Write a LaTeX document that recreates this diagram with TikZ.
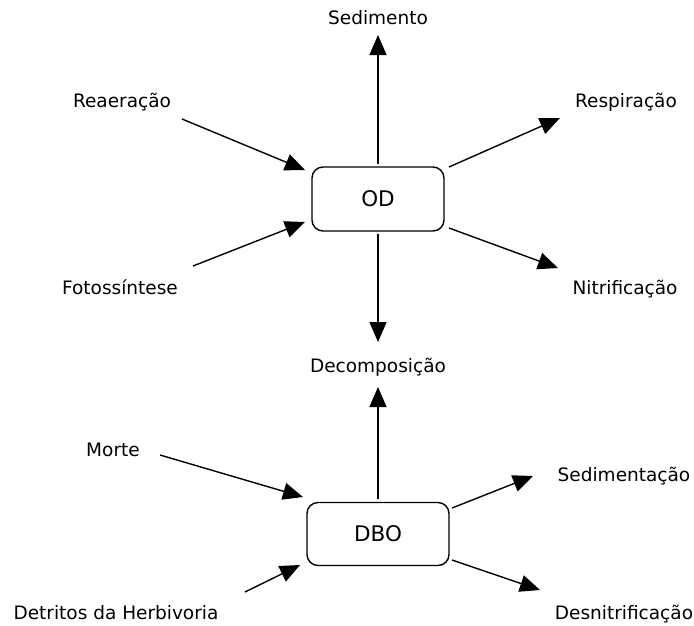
\documentclass[tikz,border=0pt]{standalone}
\usepackage{fontspec}
\setmainfont{DejaVu Sans}
\usetikzlibrary{arrows.meta}
\begin{document}
\begin{tikzpicture}[x=1pt,y=-1pt,
  flux/.style={line width=1.4pt,-{Triangle[length=20pt,width=17pt]}},
  pool/.style={draw,line width=1.4pt,rounded corners=11pt,minimum width=132pt,minimum height=64pt,font=\fontsize{21.5}{24}\selectfont},
  lbl/.style={font=\fontsize{18.5}{21}\selectfont,inner sep=0pt,anchor=base}]
\useasboundingbox (0,0) rectangle (694,625);
% state variables
\node[pool] (od) at (378,199) {OD};
\node[pool,minimum width=142pt,minimum height=63pt] (dbo) at (378,534) {DBO};
% labels (placed on their baselines)
\node[lbl] (sed) at (378,24) {Sedimento};
\node[lbl] (rea) at (122,107) {Reaeração};
\node[lbl] (foto) at (120,294) {Fotossíntese};
\node[lbl] (resp) at (626,107) {Respiração};
\node[lbl] (nit) at (625,294) {Nitrificação};
\node[lbl] (dec) at (378,372) {Decomposição};
\node[lbl] (mor) at (113,456) {Morte};
\node[lbl] (det) at (116,619) {Detritos da Herbivoria};
\node[lbl] (sedm) at (624,481) {Sedimentação};
\node[lbl] (desn) at (624,619) {Desnitrificação};
% arrow anchors
\coordinate (sedT) at (378,35);
\coordinate (reaS) at (182,119);  \coordinate (reaT) at (305,170);
\coordinate (fotoS) at (193,266); \coordinate (fotoT) at (305,222);
\coordinate (respS) at (449,167); \coordinate (respT) at (560,118);
\coordinate (nitS) at (449,228);  \coordinate (nitT) at (558,268);
\coordinate (decT) at (378,342);
\coordinate (decB) at (378,387);
\coordinate (morS) at (160,455);  \coordinate (morT) at (303,497);
\coordinate (detS) at (245,592);  \coordinate (detT) at (300,565);
\coordinate (sedmS) at (452,508); \coordinate (sedmT) at (533,476);
\coordinate (desnS) at (452,560); \coordinate (desnT) at (540,590);
% fluxes of OD
\draw[flux] (od.north) ++(0,-2) -- (sedT);
\draw[flux] (reaS) -- (reaT);
\draw[flux] (fotoS) -- (fotoT);
\draw[flux] (respS) -- (respT);
\draw[flux] (nitS) -- (nitT);
\draw[flux] (od.south) ++(0,2) -- (decT);
% fluxes of DBO
\draw[flux] (dbo.north) ++(0,-3) -- (decB);
\draw[flux] (morS) -- (morT);
\draw[flux] (detS) -- (detT);
\draw[flux] (sedmS) -- (sedmT);
\draw[flux] (desnS) -- (desnT);
\end{tikzpicture}
\end{document}
